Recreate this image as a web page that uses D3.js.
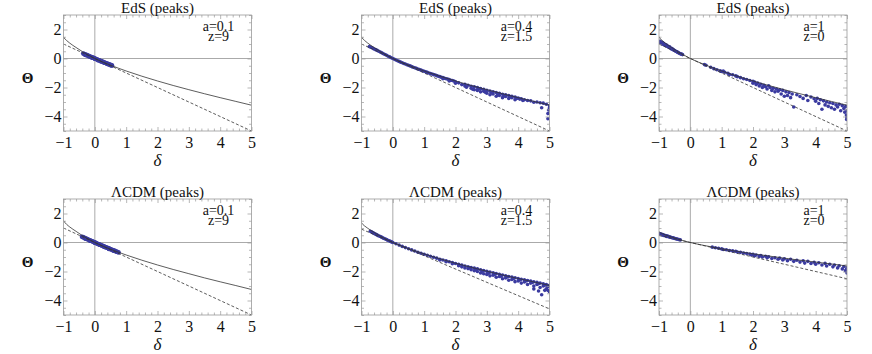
<!DOCTYPE html>
<html>
<head>
<meta charset="utf-8">
<script src="https://cdn.jsdelivr.net/npm/d3@7"></script>
<style>
  body { margin: 0; background: #fff; }
</style>
</head>
<body>
<svg id="chart" width="872" height="354"></svg>
<script>
// ---- data ----
var titles = ["EdS (peaks)", "EdS (peaks)", "EdS (peaks)", "\u039BCDM (peaks)", "\u039BCDM (peaks)", "\u039BCDM (peaks)"];
var labelA = ["a=0.1", "a=0.4", "a=1", "a=0.1", "a=0.4", "a=1"];
var labelZ = ["z=9", "z=1.5", "z=0", "z=9", "z=1.5", "z=0"];

var xMajor = [-1, 0, 1, 2, 3, 4, 5];
var yMajor = [-4, -2, 0, 2];

// solid curve (spherical collapse), sampled by eye
var curveDelta = [-1, -0.95, -0.9, -0.8, -0.6, -0.4, -0.2, 0, 0.5, 1, 1.5, 2, 2.5, 3, 3.5, 4, 4.5, 5];
var edsCurve   = [1.5, 1.34, 1.24, 1.06, 0.76, 0.48, 0.23, 0, -0.46, -0.86, -1.22, -1.55, -1.86, -2.15, -2.43, -2.70, -2.96, -3.22];
var lcdm01Curve = [1.52, 1.36, 1.25, 1.07, 0.77, 0.48, 0.23, 0, -0.46, -0.86, -1.22, -1.55, -1.86, -2.15, -2.44, -2.71, -2.97, -3.24];
var lcdm04Curve = [1.38, 1.23, 1.14, 0.98, 0.70, 0.44, 0.21, 0, -0.42, -0.79, -1.12, -1.43, -1.71, -1.98, -2.24, -2.48, -2.72, -2.96];
var lcdm1Curve  = [0.75, 0.67, 0.62, 0.53, 0.38, 0.24, 0.11, 0, -0.23, -0.43, -0.61, -0.78, -0.93, -1.08, -1.22, -1.35, -1.48, -1.62];

// dashed linear theory line, end points at delta = -1 and delta = 5
var dashDelta = [-1, 5];
var dashEds = [1, -5];
var dashLcdm01 = [1, -5];
var dashLcdm04 = [0.92, -4.58];
var dashLcdm1 = [0.5, -2.5];

// peaks [delta, Theta]
var peaksEds01 = [[-0.37,0.34],[-0.34,0.31],[-0.31,0.28],[-0.28,0.25],[-0.25,0.23],[-0.22,0.2],[-0.19,0.17],[-0.16,0.14],[-0.13,0.12],
  [-0.1,0.09],[-0.07,0.06],[-0.04,0.04],[-0.01,0.01],[0.02,-0.02],[0.05,-0.05],[0.08,-0.07],[0.11,-0.1],[0.14,-0.13],[0.17,-0.15],
  [0.2,-0.18],[0.23,-0.21],[0.26,-0.23],[0.29,-0.26],[0.32,-0.29],[0.35,-0.31],[0.38,-0.34],[0.41,-0.37],[0.44,-0.39],[0.47,-0.42],
  [0.5,-0.44],[0.53,-0.47],[0.55,-0.49],[-0.3,0.25],[-0.2,0.16],[-0.1,0.07],[0.0,-0.02],[0.1,-0.12],[0.2,-0.2],[0.3,-0.29],[0.4,-0.38],[0.5,-0.47]];

var peaksEds04 = [[-0.75,0.82],[-0.7,0.78],[-0.65,0.72],[-0.6,0.66],[-0.55,0.61],[-0.5,0.56],[-0.45,0.5],[-0.4,0.44],[-0.35,0.39],
  [-0.3,0.33],[-0.25,0.28],[-0.2,0.22],[-0.15,0.16],[-0.1,0.11],[-0.05,0.05],[0,0],[0.05,-0.05],[0.1,-0.1],[0.15,-0.15],[0.2,-0.2],
  [0.25,-0.25],[0.3,-0.29],[0.35,-0.34],[0.4,-0.38],[0.45,-0.43],[0.5,-0.47],[0.55,-0.51],[0.6,-0.56],[0.65,-0.6],[0.7,-0.64],
  [0.75,-0.68],[0.8,-0.72],[0.85,-0.76],[0.9,-0.8],[0.95,-0.84],[1.0,-0.88],[1.05,-0.92],[1.1,-0.96],[1.15,-1.0],[1.2,-1.03],
  [1.25,-1.07],[1.3,-1.11],[1.35,-1.14],[1.4,-1.18],[1.45,-1.22],[1.5,-1.25],[1.55,-1.3],[1.6,-1.32],[1.65,-1.36],[1.7,-1.4],
  [1.75,-1.42],[1.8,-1.46],[1.85,-1.5],[1.9,-1.52],[1.95,-1.56],[2.0,-1.6],[1.6,-1.4],[1.8,-1.55],[2.0,-1.7],[2.1,-1.68],[2.2,-1.8],
  [2.3,-1.78],[2.3,-1.9],[2.4,-1.85],[2.5,-1.92],[2.5,-2.05],[2.6,-1.95],[2.6,-2.15],[2.7,-2.0],[2.7,-2.2],[2.8,-2.08],[2.8,-2.3],
  [2.9,-2.12],[2.9,-2.25],[3.0,-2.2],[3.0,-2.4],[3.1,-2.25],[3.1,-2.5],[3.2,-2.3],[3.2,-2.45],[3.3,-2.35],[3.3,-2.6],[3.4,-2.4],
  [3.4,-2.55],[3.5,-2.47],[3.5,-2.7],[3.6,-2.5],[3.6,-2.62],[3.7,-2.55],[3.7,-2.75],[3.8,-2.6],[3.8,-2.7],[3.9,-2.65],[3.9,-2.85],
  [4.0,-2.72],[4.05,-2.8],[4.1,-2.78],[4.2,-2.85],[4.3,-2.9],[4.6,-3.0],[4.7,-3.05],[4.75,-3.4],[4.8,-3.08],[4.9,-3.15],[4.95,-3.8],
  [4.95,-4.15],[5.0,-3.25],[5.0,-3.4],[4.97,-3.55],[2.35,-1.98],[2.55,-2.12],[2.75,-2.1],[2.95,-2.32],[3.15,-2.38],[3.35,-2.48],
  [3.55,-2.58],[3.75,-2.65],[3.95,-2.75],[4.15,-2.9],[4.4,-2.92],[4.5,-3.02]];

var peaksEds1 = [[-0.97,1.18],[-0.95,1.1],[-0.93,1.05],[-0.92,1.14],[-0.9,1.0],[-0.88,1.08],[-0.86,0.98],[-0.85,1.03],[-0.83,0.93],
  [-0.8,0.97],[-0.78,0.88],[-0.76,0.92],[-0.74,0.84],[-0.72,0.86],[-0.7,0.8],[-0.68,0.76],[-0.66,0.8],[-0.64,0.72],[-0.62,0.7],
  [-0.6,0.66],[-0.58,0.68],[-0.56,0.62],[-0.54,0.6],[-0.52,0.57],[-0.5,0.55],[-0.47,0.5],[-0.44,0.48],[-0.42,0.45],[-0.4,0.42],
  [-0.37,0.39],[-0.34,0.35],[-0.31,0.32],[-0.28,0.3],[-0.25,0.27],[0.45,-0.42],[0.5,-0.47],[0.65,-0.6],[0.75,-0.7],[0.85,-0.78],
  [0.95,-0.85],[1.0,-0.9],[1.05,-0.86],[1.1,-0.95],[1.2,-1.02],[1.25,-1.1],[1.35,-1.12],[1.45,-1.2],[1.5,-1.25],[1.6,-1.32],
  [1.7,-1.4],[1.8,-1.45],[1.9,-1.52],[2.0,-1.58],[2.0,-1.7],[2.05,-1.62],[2.1,-1.8],[2.15,-1.7],[2.2,-1.9],[2.25,-1.78],[2.3,-2.0],
  [2.35,-1.85],[2.4,-1.95],[2.45,-2.1],[2.5,-1.88],[2.55,-2.0],[2.6,-2.2],[2.65,-2.05],[2.7,-2.3],[2.75,-2.1],[2.8,-2.25],
  [2.85,-2.15],[2.9,-2.45],[2.95,-2.2],[3.0,-2.6],[3.05,-2.3],[3.1,-2.55],[3.15,-2.35],[3.2,-2.7],[3.25,-2.45],[3.3,-3.35],
  [3.4,-2.5],[3.5,-2.62],[3.6,-2.75],[3.7,-2.55],[3.75,-2.9],[3.85,-2.65],[3.95,-2.78],[4.0,-2.95],[4.05,-2.75],[4.1,-3.1],
  [4.15,-2.85],[4.2,-3.5],[4.25,-2.92],[4.3,-3.2],[4.35,-3.0],[4.4,-3.3],[4.45,-3.05],[4.5,-3.4],[4.55,-3.1],[4.6,-3.5],
  [4.65,-3.2],[4.7,-3.35],[4.75,-3.15],[4.8,-3.6],[4.85,-3.25],[4.9,-3.45],[4.93,-3.7],[4.96,-3.3],[4.98,-3.9],[5.0,-4.05],
  [5.0,-3.6],[4.99,-4.2]];

var peaksLcdm01 = [[-0.41,0.4],[-0.38,0.37],[-0.35,0.34],[-0.32,0.31],[-0.29,0.28],[-0.26,0.25],[-0.23,0.22],[-0.2,0.19],[-0.17,0.16],
  [-0.14,0.13],[-0.11,0.1],[-0.08,0.08],[-0.05,0.05],[-0.02,0.02],[0.01,-0.01],[0.04,-0.04],[0.07,-0.07],[0.1,-0.1],[0.13,-0.12],
  [0.16,-0.15],[0.19,-0.18],[0.22,-0.21],[0.25,-0.23],[0.28,-0.26],[0.31,-0.29],[0.34,-0.32],[0.37,-0.34],[0.4,-0.37],[0.43,-0.4],
  [0.46,-0.42],[0.49,-0.45],[0.52,-0.48],[0.55,-0.5],[0.58,-0.53],[0.61,-0.56],[0.64,-0.58],[0.67,-0.61],[0.7,-0.64],[0.73,-0.66],
  [0.76,-0.69],[-0.3,0.26],[-0.15,0.12],[0.0,-0.02],[0.15,-0.16],[0.3,-0.3],[0.45,-0.44],[0.6,-0.57]];

var peaksLcdm04 = [[-0.72,0.78],[-0.68,0.73],[-0.64,0.68],[-0.6,0.63],[-0.56,0.58],[-0.52,0.54],[-0.48,0.49],[-0.44,0.45],[-0.4,0.41],
  [-0.36,0.37],[-0.32,0.32],[-0.28,0.28],[-0.24,0.24],[-0.2,0.2],[-0.16,0.16],[-0.12,0.12],[-0.08,0.08],[-0.04,0.04],[0,0],
  [0.1,-0.09],[0.2,-0.18],[0.3,-0.27],[0.4,-0.35],[0.5,-0.43],[0.6,-0.51],[0.7,-0.59],[0.8,-0.67],[0.9,-0.74],[1.0,-0.81],
  [1.1,-0.88],[1.2,-0.95],[1.3,-1.02],[1.4,-1.08],[1.5,-1.15],[1.6,-1.21],[1.7,-1.27],[1.8,-1.33],[1.9,-1.39],[2.0,-1.45],
  [1.5,-1.2],[1.7,-1.33],[1.9,-1.46],[2.1,-1.51],[2.1,-1.6],[2.2,-1.56],[2.2,-1.68],[2.3,-1.62],[2.3,-1.75],[2.4,-1.67],[2.4,-1.8],
  [2.5,-1.72],[2.5,-1.88],[2.6,-1.77],[2.6,-1.95],[2.7,-1.82],[2.7,-2.0],[2.8,-1.88],[2.8,-2.1],[2.9,-1.93],[2.9,-2.15],[3.0,-1.99],
  [3.0,-2.2],[3.1,-2.04],[3.1,-2.3],[3.2,-2.09],[3.2,-2.25],[3.3,-2.14],[3.3,-2.4],[3.4,-2.19],[3.4,-2.35],[3.5,-2.24],[3.5,-2.5],
  [3.6,-2.29],[3.6,-2.45],[3.7,-2.34],[3.7,-2.6],[3.8,-2.38],[3.8,-2.55],[3.9,-2.43],[3.9,-2.7],[4.0,-2.48],[4.0,-2.65],[4.1,-2.53],
  [4.1,-2.8],[4.2,-2.57],[4.2,-2.72],[4.3,-2.62],[4.3,-2.9],[4.4,-2.66],[4.4,-2.8],[4.5,-2.71],[4.5,-3.0],[4.6,-2.75],[4.6,-2.9],
  [4.65,-3.35],[4.7,-2.8],[4.7,-3.1],[4.8,-2.85],[4.8,-3.0],[4.85,-3.3],[4.9,-2.9],[4.9,-3.2],[4.95,-3.05],[5.0,-2.96],[5.0,-3.4],
  [4.75,-3.6],[4.5,-3.2],[3.05,-2.12],[3.25,-2.2],[3.45,-2.32],[3.65,-2.38],[3.85,-2.48],[4.05,-2.58],[4.25,-2.66],[4.45,-2.76],
  [4.65,-2.85],[4.85,-2.95],[4.95,-3.3],[2.45,-1.76],[2.65,-1.87],[2.85,-1.99]];

var peaksLcdm1 = [[-0.97,0.6],[-0.95,0.55],[-0.93,0.58],[-0.9,0.52],[-0.88,0.55],[-0.85,0.49],[-0.82,0.5],[-0.8,0.46],[-0.77,0.47],
  [-0.75,0.42],[-0.72,0.44],[-0.7,0.4],[-0.67,0.39],[-0.64,0.37],[-0.61,0.35],[-0.58,0.33],[-0.55,0.32],[-0.52,0.29],[-0.49,0.28],
  [-0.46,0.26],[-0.43,0.24],[-0.4,0.22],[-0.36,0.2],[-0.32,0.18],[0.7,-0.32],[0.8,-0.36],[0.9,-0.4],[1.0,-0.44],[1.05,-0.48],
  [1.15,-0.5],[1.25,-0.55],[1.35,-0.58],[1.45,-0.6],[1.5,-0.66],[1.6,-0.68],[1.7,-0.72],[1.8,-0.76],[1.9,-0.8],[1.95,-0.86],
  [2.0,-0.82],[2.05,-0.92],[2.1,-0.86],[2.2,-0.96],[2.25,-0.9],[2.3,-1.0],[2.4,-0.95],[2.45,-1.06],[2.5,-0.98],[2.6,-1.1],
  [2.7,-1.05],[2.8,-1.15],[2.85,-1.08],[2.95,-1.2],[3.0,-1.12],[3.1,-1.25],[3.2,-1.16],[3.3,-1.3],[3.4,-1.22],[3.5,-1.35],
  [3.6,-1.26],[3.65,-1.42],[3.75,-1.3],[3.85,-1.45],[3.95,-1.36],[4.0,-1.5],[4.1,-1.4],[4.2,-1.55],[4.3,-1.44],[4.35,-1.62],
  [4.45,-1.5],[4.55,-1.68],[4.6,-1.55],[4.7,-1.75],[4.75,-1.6],[4.85,-1.82],[4.9,-1.65],[4.95,-1.95],[5.0,-1.75],[5.0,-2.1],[4.98,-1.85]];

// ---- layout ----
var svg = d3.select("#chart");
var colLeft = [63.5, 361.5, 659];
var rowTop = [15, 199];
var pw = 188, ph = 116;
var serif = "'Liberation Serif', 'Times New Roman', serif";

var curves = [edsCurve, edsCurve, edsCurve, lcdm01Curve, lcdm04Curve, lcdm1Curve];
var dashes = [dashEds, dashEds, dashEds, dashLcdm01, dashLcdm04, dashLcdm1];
var peaks = [peaksEds01, peaksEds04, peaksEds1, peaksLcdm01, peaksLcdm04, peaksLcdm1];
var radius = [2.3, 1.8, 1.8, 2.3, 1.8, 1.8];

var x = d3.scaleLinear().domain([-1, 5]).range([0, pw]);
var y = d3.scaleLinear().domain([-5, 3]).range([ph, 0]);

var xMinor = d3.range(-1, 5.001, 0.2).filter(function(v) { return Math.abs(v - Math.round(v)) > 1e-6; });
var yMinor = d3.range(-5, 3.001, 0.5).filter(function(v) { return Math.abs(v - Math.round(v / 2) * 2) > 1e-6; });

var line = d3.line()
  .x(function(d) { return x(d[0]); })
  .y(function(d) { return y(d[1]); })
  .curve(d3.curveMonotoneX);

function addText(g, tx, ty, size, str) {
  return g.append("text").attr("x", tx).attr("y", ty).attr("text-anchor", "middle")
    .style("font-family", serif).style("font-size", size + "px").style("fill", "#111")
    .text(str);
}

titles.forEach(function(title, i) {
  var g = svg.append("g")
    .attr("transform", "translate(" + colLeft[i % 3] + "," + rowTop[Math.floor(i / 3)] + ")");

  g.append("clipPath").attr("id", "clip" + i)
    .append("rect").attr("width", pw).attr("height", ph);

  // axes through the origin
  g.append("line").attr("x1", x(0)).attr("x2", x(0)).attr("y1", 0).attr("y2", ph)
    .attr("stroke", "#aaa").attr("stroke-width", 1);
  g.append("line").attr("x1", 0).attr("x2", pw).attr("y1", y(0)).attr("y2", y(0))
    .attr("stroke", "#aaa").attr("stroke-width", 1);

  var plot = g.append("g").attr("clip-path", "url(#clip" + i + ")");

  // peaks
  plot.selectAll(".pt")
    .data(peaks[i])
    .enter()
    .append("circle")
    .attr("class", "pt")
    .attr("cx", function(d) { return x(d[0]); })
    .attr("cy", function(d) { return y(d[1]); })
    .attr("r", radius[i])
    .attr("fill", "#3b3ba0");

  // linear theory (dashed)
  plot.append("path")
    .datum(dashDelta.map(function(d, k) { return [d, dashes[i][k]]; }))
    .attr("d", d3.line().x(function(d) { return x(d[0]); }).y(function(d) { return y(d[1]); }))
    .attr("fill", "none").attr("stroke", "#333").attr("stroke-width", 0.8)
    .attr("stroke-dasharray", "3,2");

  // spherical collapse (solid)
  plot.append("path")
    .datum(curveDelta.map(function(d, k) { return [d, curves[i][k]]; }))
    .attr("d", line)
    .attr("fill", "none").attr("stroke", "#333").attr("stroke-width", 0.8);

  // frame ticks
  function ticks(axis, vals, size, tx) {
    var a = g.append("g").attr("transform", tx)
      .call(axis.tickValues(vals).tickSize(size).tickFormat(""));
    a.select(".domain").remove();
    a.selectAll("line").attr("stroke", "#999").attr("stroke-width", 0.7);
    return a;
  }
  ticks(d3.axisBottom(x), xMinor, -2.5, "translate(0," + ph + ")");
  ticks(d3.axisTop(x), xMinor, -2.5, "");
  ticks(d3.axisTop(x), xMajor, -4, "");
  ticks(d3.axisLeft(y), yMinor, -2.5, "");
  ticks(d3.axisRight(y), yMinor, -2.5, "translate(" + pw + ",0)");
  ticks(d3.axisRight(y), yMajor, -4, "translate(" + pw + ",0)");

  var xa = g.append("g").attr("transform", "translate(0," + ph + ")")
    .call(d3.axisBottom(x).tickValues(xMajor).tickSize(-4).tickPadding(6).tickFormat(d3.format("d")));
  xa.select(".domain").remove();
  xa.selectAll("line").attr("stroke", "#999").attr("stroke-width", 0.7);
  xa.selectAll("text").style("font-family", serif).style("font-size", "16px").style("fill", "#111");

  var ya = g.append("g")
    .call(d3.axisLeft(y).tickValues(yMajor).tickSize(-4).tickPadding(2).tickFormat(d3.format("d")));
  ya.select(".domain").remove();
  ya.selectAll("line").attr("stroke", "#999").attr("stroke-width", 0.7);
  ya.selectAll("text").style("font-family", serif).style("font-size", "16px").style("fill", "#111");

  g.append("rect").attr("width", pw).attr("height", ph)
    .attr("fill", "none").attr("stroke", "#999").attr("stroke-width", 0.8);

  // texts
  addText(g, pw / 2, -2.5, 15, title);
  addText(g, pw - 33, 15.5, 14, labelA[i]);
  addText(g, pw - 33, 26, 14, labelZ[i]);
  addText(g, pw / 2, ph + 35, 17, "\u03B4").style("font-style", "italic");
  addText(g, -36, ph / 2 + 10, 15, "\u0398").style("font-weight", "bold");
});
</script>
</body>
</html>
